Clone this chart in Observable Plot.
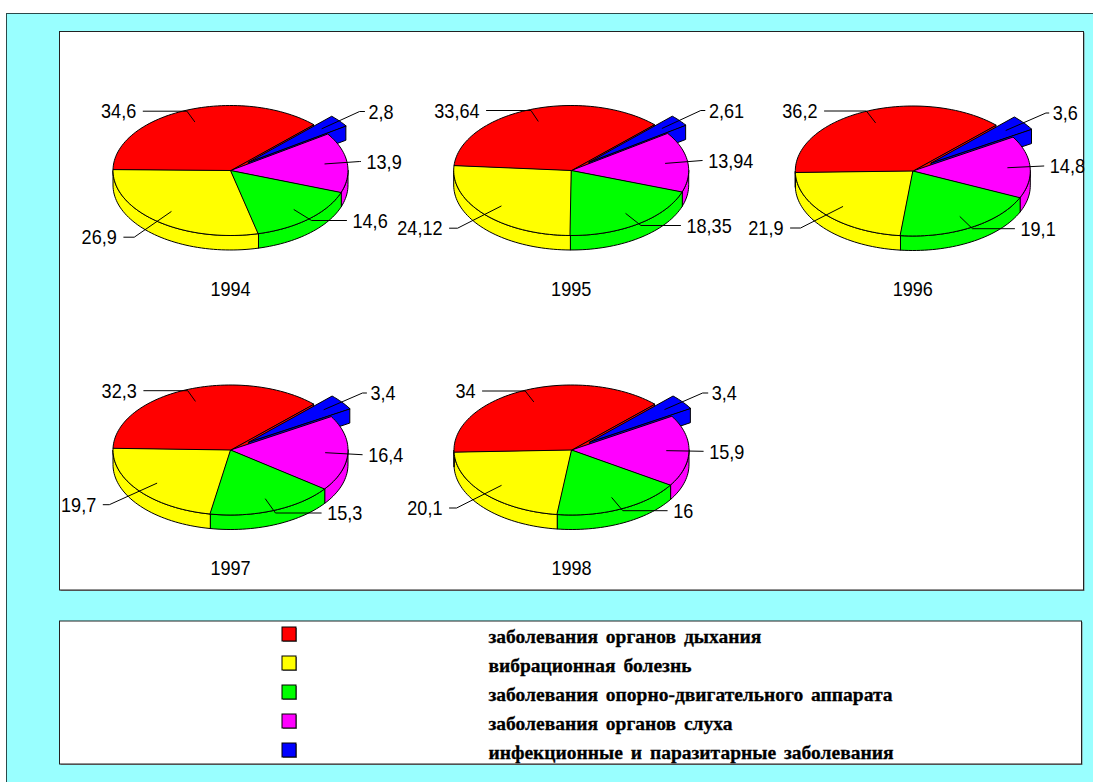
<!DOCTYPE html>
<html lang="ru">
<head>
<meta charset="utf-8">
<script src="https://cdn.jsdelivr.net/npm/d3@7"></script>
<script src="https://cdn.jsdelivr.net/npm/@observablehq/plot@0.6"></script>
<style>
  html, body { margin: 0; padding: 0; background: #fff; }
  svg { display: block; }
  .legend-label text { word-spacing: 3px; stroke: #000; stroke-width: 0.3px; }
</style>
</head>
<body>
<div id="chart"></div>
<script>
// Disease categories, in legend order
const categories = [
  "заболевания органов дыхания",
  "вибрационная болезнь",
  "заболевания опорно-двигательного аппарата",
  "заболевания органов слуха",
  "инфекционные и паразитарные заболевания"
];
const categoryColors = ["#ff0000", "#ffff00", "#00ff00", "#ff00ff", "#0000ff"];

// Share of each category per year
const years = [1994, 1995, 1996, 1997, 1998];
const values1994 = [34.6, 26.9, 14.6, 13.9, 2.8];
const values1995 = [33.64, 24.12, 18.35, 13.94, 2.61];
const values1996 = [36.2, 21.9, 19.1, 14.8, 3.6];
const values1997 = [32.3, 19.7, 15.3, 16.4, 3.4];
const values1998 = [34, 20.1, 16, 15.9, 3.4];
const seriesByYear = [values1994, values1995, values1996, values1997, values1998];

// Pie centres on the page
const pieCentres = [[230, 170], [570.7, 170], [912.3, 170.5], [230, 449.5], [571, 449.5]];

// Where each value label's leader ends, relative to its pie centre
const leaderEnds1994 = [[-87.3, -59.3], [-106.7, 66.7], [116, 50], [130, -9], [134, -59]];
const leaderEnds1995 = [[-84.7, -60], [-121.7, 57.7], [109.3, 55], [131, -10], [133.7, -60]];
const leaderEnds1996 = [[-88.3, -60], [-122.3, 57], [101.7, 57.7], [131, -5], [136, -58]];
const leaderEnds1997 = [[-86.7, -59.3], [-127.3, 54.7], [90.7, 63], [131.7, 4.7], [136, -57]];
const leaderEnds1998 = [[-89, -59], [-122, 58], [95.7, 60.7], [131.7, 1.3], [136.3, -57]];
const leaderEnds = [leaderEnds1994, leaderEnds1995, leaderEnds1996, leaderEnds1997, leaderEnds1998];

// Pie geometry
const W = 1093, H = 782;
const RX = 117.5, RY = 65, DEPTH = 14.5;
const EXPLODE = 0.2, LEADER_R = 0.81;
const FIRST_ANGLE = 45;                  // where the detached wedge begins, clockwise from north
const CLOCKWISE = [4, 3, 2, 1, 0];       // wedges in drawing order round the pie
const rad = (a) => (a * Math.PI) / 180;

function project(c, a, r = 1, dz = 0, off = [0, 0]) {
  return [c[0] + off[0] + r * RX * Math.sin(rad(a)), c[1] + off[1] - r * RY * Math.cos(rad(a)) + dz];
}
function arc(c, a0, a1, dz = 0, off) {
  const n = Math.max(1, Math.ceil(Math.abs(a1 - a0) / 2));
  return d3.range(n + 1).map((i) => project(c, a0 + ((a1 - a0) * i) / n, 1, dz, off));
}

const polygons = [], leaders = [], labels = [], yearLabels = [];
let polyId = 0;
function addPolygon(points, cat) {
  const id = polyId++;
  points.forEach(([x, y]) => polygons.push({ x, y, id, cat }));
}

years.forEach((year, yi) => {
  const c = pieCentres[yi], vals = seriesByYear[yi];
  const total = d3.sum(vals);
  let a = FIRST_ANGLE;
  const wedges = CLOCKWISE.map((i) => {
    const span = (vals[i] / total) * 360;
    const w = { i, a0: a, a1: a + span, mid: a + span / 2 };
    a += span;
    return w;
  });
  const blue = wedges[0], red = wedges[4];
  const off = [EXPLODE * RX * Math.sin(rad(blue.mid)), -EXPLODE * RY * Math.cos(rad(blue.mid))];

  // Cut face of the first sector, seen through the gap left by the detached wedge
  addPolygon([c, project(c, red.a1), project(c, red.a1, 1, DEPTH), [c[0], c[1] + DEPTH]], categories[red.i]);

  // Rim of the near half of the pie
  wedges.slice(1).forEach((w) => {
    const from = Math.max(w.a0, 90), to = Math.min(w.a1, 270);
    if (to > from) addPolygon([...arc(c, from, to), ...arc(c, to, from, DEPTH)], categories[w.i]);
  });

  // Detached wedge: cut face, then top
  addPolygon([
    [c[0] + off[0], c[1] + off[1]],
    project(c, blue.a1, 1, 0, off),
    project(c, blue.a1, 1, DEPTH, off),
    [c[0] + off[0], c[1] + off[1] + DEPTH]
  ], categories[blue.i]);
  addPolygon([[c[0] + off[0], c[1] + off[1]], ...arc(c, blue.a0, blue.a1, 0, off)], categories[blue.i]);

  // Top faces of the remaining sectors
  wedges.slice(1).forEach((w) => addPolygon([c, ...arc(c, w.a0, w.a1)], categories[w.i]));

  // Leaders and value labels
  wedges.forEach((w) => {
    const shift = w === blue ? off : [0, 0];
    const start = project(c, w.mid, LEADER_R, 0, shift);
    const rel = leaderEnds[yi][w.i];
    const end = [c[0] + rel[0], c[1] + rel[1]];
    const o = [c[0] + shift[0], c[1] + shift[1]];
    // The leader runs radially until it reaches the label's height, then horizontally
    const t = (end[1] - o[1]) / (start[1] - o[1]);
    const bendX = o[0] + (start[0] - o[0]) * t;
    const side = Math.sign(rel[0]);
    const pts = [start];
    if ((end[0] - bendX) * side > 0 && t > 1) pts.push([bendX, end[1]]);
    pts.push(end);
    const id = `${year}-${w.i}`;
    pts.forEach(([x, y]) => leaders.push({ x, y, id }));
    labels.push({
      x: end[0] + (side < 0 ? -7 : w === blue ? 4 : 6),
      y: end[1] + 0.5,
      text: String(vals[w.i]).replace(".", ","),
      side
    });
  });

  yearLabels.push({ x: c[0], y: Math.floor(c[1]) + 118.5, text: String(year) });
});

// Page panels
const backdrop = [{ x1: 6.5, x2: W + 5, y1: 13.5, y2: H + 5 }];
const panels = [
  { x1: 59.5, x2: 1083.5, y1: 31.5, y2: 590 },
  { x1: 59.5, x2: 1081.5, y1: 621, y2: 764 }
];
const legendRows = categories.map((name, i) => ({ name, y: 634 + 29 * i }));
const SWATCH_LEFT = 282, SWATCH_SIZE = 14, LEGEND_TEXT_X = 488;

const numberFont = "'Liberation Sans', sans-serif";
const NUMBER_SIZE = 21, NUMBER_SQUEEZE = 0.86;

const numberText = (rows, anchor) => Plot.text(rows, {
  x: "x", y: "y", text: "text", textAnchor: anchor, fill: "#000",
  fontFamily: numberFont, fontSize: NUMBER_SIZE, lineAnchor: "middle", className: "number-label"
});

const plot = Plot.plot({
  width: W,
  height: H,
  margin: 0,
  style: { background: "#fff" },
  x: { domain: [0, W], range: [0, W], axis: null },
  y: { domain: [0, H], range: [0, H], axis: null },
  color: { domain: categories, range: categoryColors },
  marks: [
    Plot.rect(backdrop, { x1: "x1", x2: "x2", y1: "y1", y2: "y2", fill: "#99ffff", stroke: "#2b4a4a", strokeWidth: 1 }),
    // Panels: light shadow on the right and bottom edges
    Plot.rect(panels, { x1: (d) => d.x1 + 1, x2: (d) => d.x2 + 1, y1: (d) => d.y1 + 1, y2: (d) => d.y2 + 1, fill: "#808080" }),
    Plot.rect(panels, { x1: "x1", x2: "x2", y1: "y1", y2: "y2", fill: "#ffffff", stroke: "#222", strokeWidth: 1 }),

    Plot.line(polygons, {
      x: "x", y: "y", z: "id", fill: "cat", stroke: "#000", strokeWidth: 1,
      curve: "linear-closed", strokeLinejoin: "round"
    }),
    Plot.line(leaders, { x: "x", y: "y", z: "id", stroke: "#000", strokeWidth: 1, curve: "linear" }),

    numberText(labels.filter((d) => d.side < 0), "end"),
    numberText(labels.filter((d) => d.side > 0), "start"),
    numberText(yearLabels, "middle"),

    // Legend
    Plot.rect(legendRows, {
      x1: SWATCH_LEFT + 1, x2: SWATCH_LEFT + SWATCH_SIZE + 1,
      y1: (d) => d.y - SWATCH_SIZE / 2 + 1, y2: (d) => d.y + SWATCH_SIZE / 2 + 1, fill: "#808080"
    }),
    Plot.rect(legendRows, {
      x1: SWATCH_LEFT, x2: SWATCH_LEFT + SWATCH_SIZE,
      y1: (d) => d.y - SWATCH_SIZE / 2, y2: (d) => d.y + SWATCH_SIZE / 2,
      fill: "name", stroke: "#000", strokeWidth: 1
    }),
    Plot.text(legendRows, {
      x: LEGEND_TEXT_X, y: (d) => d.y + 2, text: "name", textAnchor: "start", fill: "#000",
      fontFamily: "'Liberation Serif', serif", fontWeight: "bold", fontSize: 19.5, lineAnchor: "middle",
      className: "legend-label"
    })
  ]
});
document.getElementById("chart").append(plot);

// The numerals are set in a horizontally condensed cut
plot.querySelectorAll(".number-label text").forEach((t) => {
  t.setAttribute("textLength", (t.getComputedTextLength() * NUMBER_SQUEEZE).toFixed(1));
  t.setAttribute("lengthAdjust", "spacingAndGlyphs");
});
</script>
</body>
</html>
